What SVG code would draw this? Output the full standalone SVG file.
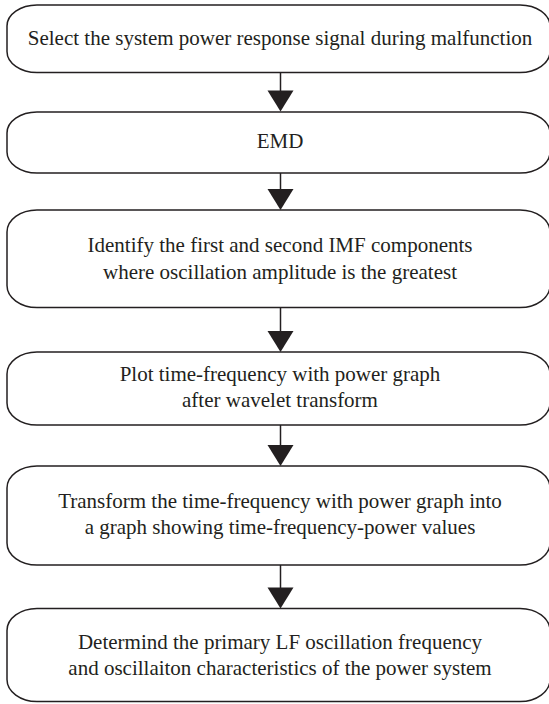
<svg xmlns="http://www.w3.org/2000/svg" width="549" height="704" viewBox="0 0 549 704">
  <style>
    .box { fill: #ffffff; stroke: #231f20; stroke-width: 1.5; }
    .lbl { font-family: "Liberation Serif", "Times New Roman", serif; font-size: 21px; fill: #231f20; text-anchor: middle; }
    .conn { stroke: #231f20; stroke-width: 1.5; fill: none; }
    .head { fill: #231f20; }
  </style>
  <rect width="549" height="704" fill="#ffffff"/>

  <!-- vertical connectors with solid triangular heads -->
  <g id="connectors">
    <line class="conn" x1="280.5" y1="72.5" x2="280.5" y2="91"/>
    <path class="head" d="M267.5,90.5 L293.5,90.5 L280.5,111.5 Z"/>
    <line class="conn" x1="280.5" y1="173" x2="280.5" y2="190"/>
    <path class="head" d="M267.5,189 L293.5,189 L280.5,210 Z"/>
    <line class="conn" x1="280.5" y1="307.5" x2="280.5" y2="332"/>
    <path class="head" d="M267.5,331 L293.5,331 L280.5,352 Z"/>
    <line class="conn" x1="280.5" y1="425" x2="280.5" y2="446"/>
    <path class="head" d="M267.5,445 L293.5,445 L280.5,466 Z"/>
    <line class="conn" x1="280.5" y1="565" x2="280.5" y2="588.5"/>
    <path class="head" d="M267.5,587.5 L293.5,587.5 L280.5,608.5 Z"/>
  </g>

  <g id="step1">
    <rect class="box" x="7" y="5" width="543" height="67.5" rx="30" ry="21"/>
    <text class="lbl" x="280" y="45">Select the system power response signal during malfunction</text>
  </g>
  <g id="step2">
    <rect class="box" x="7" y="112" width="543" height="61" rx="30" ry="21"/>
    <text class="lbl" x="280" y="148">EMD</text>
  </g>
  <g id="step3">
    <rect class="box" x="7" y="210" width="543" height="97.5" rx="30" ry="22"/>
    <text class="lbl" x="280" y="252">Identify the first and second IMF components</text>
    <text class="lbl" x="280" y="278.5">where oscillation amplitude is the greatest</text>
  </g>
  <g id="step4">
    <rect class="box" x="7" y="352" width="543" height="73" rx="30" ry="22"/>
    <text class="lbl" x="280" y="381">Plot time-frequency with power graph</text>
    <text class="lbl" x="280" y="407">after wavelet transform</text>
  </g>
  <g id="step5">
    <rect class="box" x="7" y="466" width="543" height="99" rx="30" ry="22"/>
    <text class="lbl" x="280" y="507.5">Transform the time-frequency with power graph into</text>
    <text class="lbl" x="280" y="534">a graph showing time-frequency-power values</text>
  </g>
  <g id="step6">
    <rect class="box" x="7" y="608.5" width="543" height="93" rx="30" ry="22"/>
    <text class="lbl" x="280" y="648.5">Determind the primary LF oscillation frequency</text>
    <text class="lbl" x="280" y="674.5">and oscillaiton characteristics of the power system</text>
  </g>
</svg>
